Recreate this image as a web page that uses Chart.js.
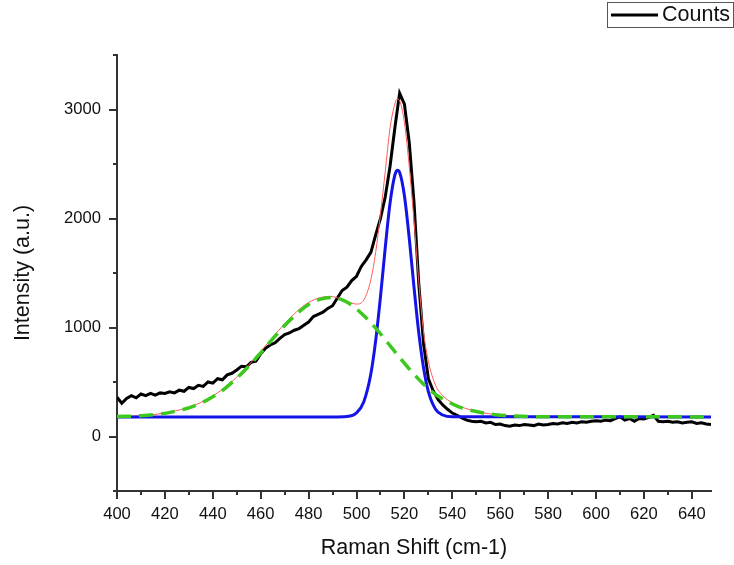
<!DOCTYPE html>
<html>
<head>
<meta charset="utf-8">
<title>Raman Shift</title>
<script src="https://cdn.jsdelivr.net/npm/chart.js@4.4.1/dist/chart.umd.min.js"></script>
<style>
  body { margin: 0; background: #fff; }
  #raman-box { width: 734px; height: 565px; }
</style>
</head>
<body>
<div id="raman-box">
  <canvas id="raman-chart" width="734" height="565"></canvas>
</div>
<script>
////// Data /////////
var countsX = [400,402,404,406,408,410,412,414,416,418,420,422,424,426,428,430,432,434,436,438,
               440,442,444,446,448,450,452,454,456,458,460,462,464,466,468,470,472,474,476,478,
               480,482,484,486,488,490,492,494,496,498,500,502,504,506,508,510,512,514,516,518,
               520,522,524,526,528,530,532,534,536,538,540,542,544,546,548,550,552,554,556,558,
               560,562,564,566,568,570,572,574,576,578,580,582,584,586,588,590,592,594,596,598,
               600,602,604,606,608,610,612,614,616,618,620,622,624,626,628,630,632,634,636,638,
               640,642,644,646,648];
var countsY = [360,305,350,375,355,390,375,395,380,400,395,410,400,425,415,450,440,470,460,500,
               490,530,520,565,580,610,645,640,680,690,760,810,840,860,900,935,950,975,990,1020,
               1050,1100,1120,1140,1175,1200,1270,1340,1370,1430,1470,1560,1620,1690,1850,2000,2200,2480,2830,3150,
               3050,2700,2150,1400,850,530,420,340,290,250,215,195,170,150,140,135,140,125,130,110,
               115,100,95,105,100,110,105,100,115,105,110,120,115,125,120,130,125,135,130,140,
               145,140,150,145,165,180,150,165,140,165,160,175,195,140,135,140,130,135,125,130,
               135,120,125,115,110];

var fitX = [400,410,420,425,430,435,440,445,450,455,460,465,470,475,480,485,489,493,496,500,
            503,506,508,510,512,514,516,517,518,520,522,524,526,528,530,533,536,540,545,550,
            555,560,570,580,648];
var fitY = [183,191,214,238,268,312,372,448,545,655,780,910,1035,1145,1230,1275,1285,1265,1240,1215,
            1250,1440,1690,2040,2430,2830,3050,3095,3080,2880,2480,1980,1420,960,690,470,375,310,262,230,
            210,197,186,181,180];

var broadX = [400,410,420,425,430,435,440,445,450,455,460,465,470,475,480,485,489,493,498,503,
              508,513,518,523,528,533,538,543,548,553,558,565,575,648];
var broadY = [183,191,212,235,263,305,365,440,536,645,768,895,1018,1125,1211,1260,1275,1262,1205,1110,
              995,860,725,595,480,385,320,270,238,215,200,189,182,180];

var sharpX = [400,490,496,500,503,506,508,510,512,514,516,517,518,520,522,524,526,528,530,533,
              536,540,648];
var sharpY = [180,180,184,217,317,576,879,1281,1733,2141,2397,2442,2422,2209,1822,1370,951,628,412,250,
              197,181,180];

var xTickValues = [400,420,440,460,480,500,520,540,560,580,600,620,640];
var yTickValues = [0,1000,2000,3000];
var xMinorTicks = [410,430,450,470,490,510,530,550,570,590,610,630];
var yMinorTicks = [-500,500,1500,2500,3500];

function toPoints(xs, ys) {
  return xs.map(function(x, i) { return { x: x, y: ys[i] }; });
}

var fontFamily = '"Liberation Sans", Arial, sans-serif';
var axisColor = '#333';

////// Minor ticks + legend box /////////
const ramanExtras = {
  id: 'ramanExtras',
  afterDraw: function(chart) {
    const c = chart.ctx;
    const xs = chart.scales.x;
    const ys = chart.scales.y;
    const area = chart.chartArea;
    c.save();
    c.strokeStyle = axisColor;
    c.lineWidth = 2;
    xMinorTicks.forEach(function(v) {
      var px = Math.round(xs.getPixelForValue(v));
      c.beginPath();
      c.moveTo(px, area.bottom);
      c.lineTo(px, area.bottom + 4);
      c.stroke();
    });
    yMinorTicks.forEach(function(v) {
      var py = Math.round(ys.getPixelForValue(v));
      c.beginPath();
      c.moveTo(area.left - 4, py);
      c.lineTo(area.left, py);
      c.stroke();
    });

    // legend, only the data series
    var ds = chart.data.datasets[0];
    c.lineWidth = 1;
    c.strokeStyle = '#555';
    c.strokeRect(607.5, 2.5, 126, 25);
    c.strokeStyle = ds.borderColor;
    c.lineWidth = 3;
    c.beginPath();
    c.moveTo(611, 15);
    c.lineTo(658, 15);
    c.stroke();
    c.fillStyle = '#111';
    c.font = '21.5px ' + fontFamily;
    c.textBaseline = 'middle';
    c.textAlign = 'left';
    c.fillText(ds.label, 662, 15.5);
    c.restore();
  }
};

const ctx_raman = document.getElementById('raman-chart');
new Chart(ctx_raman, {
  type: 'line',
  data: {
    datasets: [{
      label: 'Counts',
      data: toPoints(countsX, countsY),
      borderColor: '#000000',
      borderWidth: 3,
      pointRadius: 0,
      tension: 0,
      order: 3
    }, {
      label: 'Fit Peak Sum',
      data: toPoints(fitX, fitY),
      borderColor: '#ff5a5a',
      borderWidth: 1,
      pointRadius: 0,
      cubicInterpolationMode: 'monotone',
      order: 2
    }, {
      label: 'Peak 2',
      data: toPoints(sharpX, sharpY),
      borderColor: '#1414e6',
      borderWidth: 3,
      pointRadius: 0,
      cubicInterpolationMode: 'monotone',
      order: 1
    }, {
      label: 'Peak 1',
      data: toPoints(broadX, broadY),
      borderColor: '#3cc81e',
      borderWidth: 3.5,
      borderDash: [14, 8],
      pointRadius: 0,
      cubicInterpolationMode: 'monotone',
      order: 0
    }]
  },
  options: {
    responsive: false,
    animation: false,
    layout: {
      padding: { top: 55, right: 23, left: 0, bottom: 0 }
    },
    plugins: {
      legend: { display: false },
      tooltip: { enabled: false }
    },
    scales: {
      x: {
        type: 'linear',
        min: 400,
        max: 648,
        afterFit: function(scale) { scale.height = 74; },
        afterBuildTicks: function(scale) {
          scale.ticks = xTickValues.map(function(v) { return { value: v }; });
        },
        border: { color: axisColor, width: 2 },
        grid: { drawOnChartArea: false, drawTicks: true, tickLength: 8, color: axisColor, lineWidth: 2 },
        ticks: {
          maxRotation: 0,
          autoSkip: false,
          padding: 5,
          color: '#111',
          font: { family: fontFamily, size: 16.6 },
          callback: function(v) { return String(v); }
        },
        title: {
          display: true,
          text: 'Raman Shift (cm-1)',
          color: '#111',
          padding: { top: 0, bottom: 4 },
          font: { family: fontFamily, size: 21.5 }
        }
      },
      y: {
        min: -500,
        max: 3500,
        afterFit: function(scale) { scale.width = 117; },
        afterBuildTicks: function(scale) {
          scale.ticks = yTickValues.map(function(v) { return { value: v }; });
        },
        border: { color: axisColor, width: 2 },
        grid: { drawOnChartArea: false, drawTicks: true, tickLength: 8, color: axisColor, lineWidth: 2 },
        ticks: {
          autoSkip: false,
          padding: 8,
          color: '#111',
          font: { family: fontFamily, size: 16.6 },
          callback: function(v) { return String(v); }
        },
        title: {
          display: true,
          text: 'Intensity (a.u.)',
          color: '#111',
          padding: { top: 10, bottom: 0 },
          font: { family: fontFamily, size: 21.5 }
        }
      }
    }
  },
  plugins: [ramanExtras]
});
</script>
</body>
</html>
